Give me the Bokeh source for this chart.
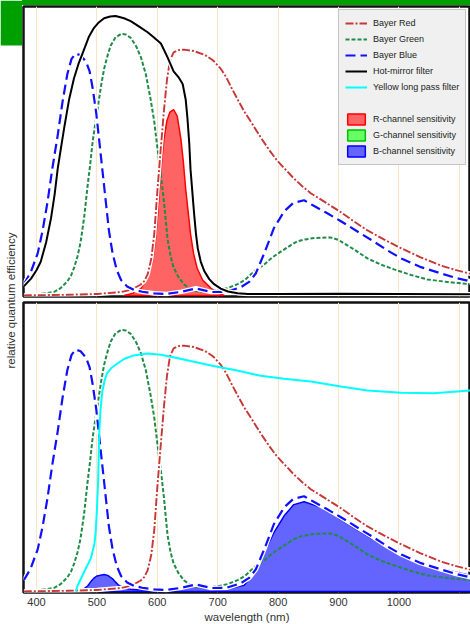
import math
from bokeh.plotting import figure
from bokeh.layouts import row, column
from bokeh.models import (Range1d, FixedTicker, Grid, LinearAxis, Legend,
                          LegendItem, Label, BoxAnnotation, Div)
from bokeh.embed import file_html
from bokeh.resources import INLINE

# ---------------- data ----------------
RED_WL = [379, 450, 500, 540, 556, 565, 572, 578, 584, 590, 595, 600, 606, 611, 616, 621,
          627, 635, 644, 660, 678, 692, 705, 714, 722, 733, 744, 758, 771, 785, 799, 812,
          826, 840, 854, 880, 904, 925, 948, 975, 1004, 1035, 1069, 1095, 1119]
RED_VAL = [0.0, 0.002, 0.005, 0.012, 0.02, 0.03, 0.038, 0.05, 0.075, 0.13, 0.22, 0.37,
           0.53, 0.66, 0.77, 0.84, 0.868, 0.876, 0.878, 0.873, 0.86, 0.84, 0.81, 0.78,
           0.745, 0.70, 0.657, 0.61, 0.565, 0.52, 0.48, 0.45, 0.418, 0.39, 0.365, 0.33,
           0.297, 0.265, 0.232, 0.2, 0.168, 0.137, 0.107, 0.09, 0.077]

GREEN_WL = [379, 400, 429, 440, 451, 457, 462, 468, 473, 479, 484, 489, 493, 501, 507, 512,
            518, 523, 531, 540, 548, 556, 565, 573, 581, 589, 595, 600, 606, 611, 617, 622,
            627, 635, 644, 655, 667, 685, 700, 717, 733, 745, 755, 766, 777, 790, 805, 820,
            832, 845, 860, 887, 900, 909, 925, 948, 970, 992, 1020, 1047, 1080, 1119]
GREEN_VAL = [0.0, 0.003, 0.012, 0.026, 0.05, 0.07, 0.097, 0.14, 0.19, 0.28, 0.38, 0.47,
             0.55, 0.665, 0.75, 0.81, 0.86, 0.893, 0.922, 0.934, 0.932, 0.92, 0.89, 0.85,
             0.79, 0.70, 0.62, 0.53, 0.43, 0.335, 0.2, 0.14, 0.1, 0.065, 0.04, 0.022, 0.014,
             0.014, 0.018, 0.026, 0.04, 0.055, 0.075, 0.095, 0.11, 0.135, 0.157, 0.178,
             0.193, 0.2, 0.205, 0.207, 0.198, 0.186, 0.165, 0.132, 0.11, 0.093, 0.073,
             0.057, 0.048, 0.04]

BLUE_WL = [379, 390, 402, 410, 418, 426, 435, 443, 451, 458, 465, 473, 482, 488, 493, 499,
           504, 510, 515, 520, 526, 533, 540, 550, 561, 575, 595, 615, 640, 664, 689, 715,
           739, 752, 763, 777, 793, 810, 825, 843, 859, 880, 904, 930, 958, 980, 1004,
           1035, 1069, 1095, 1119]
BLUE_VAL = [0.04, 0.08, 0.15, 0.23, 0.33, 0.45, 0.57, 0.69, 0.79, 0.845, 0.864, 0.858,
            0.835, 0.80, 0.74, 0.65, 0.55, 0.43, 0.33, 0.23, 0.15, 0.09, 0.055, 0.032,
            0.02, 0.013, 0.007, 0.005, 0.013, 0.025, 0.012, 0.013, 0.03, 0.048, 0.078,
            0.15, 0.24, 0.30, 0.33, 0.34, 0.32, 0.295, 0.265, 0.23, 0.193, 0.162, 0.132,
            0.102, 0.079, 0.062, 0.05]

HOT_WL = [379, 391, 400, 407, 416, 424, 430, 435, 440, 446, 454, 462, 470, 479, 487, 495,
          503, 512, 522, 531, 545, 556, 570, 584, 595, 606, 617, 627, 635, 642, 647, 650,
          653, 655, 658, 661, 664, 667, 672, 678, 686, 694, 705, 717, 733, 750, 800, 900,
          1000, 1119]
HOT_VAL = [0.032, 0.06, 0.09, 0.12, 0.19, 0.275, 0.36, 0.45, 0.52, 0.60, 0.70, 0.775,
           0.83, 0.88, 0.925, 0.955, 0.975, 0.99, 0.996, 0.998, 0.99, 0.98, 0.96, 0.94,
           0.92, 0.90, 0.85, 0.80, 0.78, 0.755, 0.70, 0.63, 0.54, 0.45, 0.37, 0.29, 0.22,
           0.168, 0.12, 0.086, 0.058, 0.04, 0.024, 0.014, 0.008, 0.005, 0.005, 0.006,
           0.005, 0.004]

YLP_WL = [465, 468, 479, 490, 496, 498, 500, 502, 504, 506, 509, 513, 517, 525, 534, 545,
          561, 584, 606, 640, 689, 730, 771, 810, 854, 904, 948, 1004, 1058, 1119]
YLP_VAL = [0.0, 0.02, 0.07, 0.118, 0.17, 0.214, 0.29, 0.39, 0.57, 0.65, 0.714, 0.755,
           0.78, 0.80, 0.814, 0.83, 0.843, 0.85, 0.845, 0.83, 0.807, 0.79, 0.77, 0.76,
           0.75, 0.732, 0.718, 0.71, 0.708, 0.718]

RCH_WL = [545, 560, 573, 585, 592, 597, 601, 606, 611, 616, 621, 627, 633, 639, 643, 647,
          651, 655, 660, 666, 675, 689, 700, 711]
RCH_VAL = [0.0, 0.008, 0.025, 0.07, 0.12, 0.2, 0.3, 0.45, 0.56, 0.625, 0.655, 0.664, 0.64,
           0.56, 0.48, 0.38, 0.3, 0.22, 0.15, 0.097, 0.055, 0.025, 0.01, 0.0]

GCH_WL = [455, 462, 470, 478, 486]
GCH_VAL = [0.0, 0.004, 0.006, 0.004, 0.0]

BCH_WL = [470, 478, 485, 490, 495, 500, 506, 512, 518, 526, 531, 536, 545, 556, 575, 600,
          640, 664, 689, 717, 744, 761, 777, 793, 810, 826, 843, 871, 895, 920, 948, 975,
          1000, 1019, 1045, 1069, 1095, 1119]
BCH_VAL = [0.0, 0.008, 0.02, 0.035, 0.047, 0.055, 0.058, 0.06, 0.057, 0.045, 0.033, 0.022,
           0.012, 0.008, 0.006, 0.004, 0.01, 0.02, 0.01, 0.01, 0.022, 0.07, 0.14, 0.21,
           0.27, 0.31, 0.32, 0.30, 0.27, 0.235, 0.198, 0.164, 0.135, 0.118, 0.098, 0.082,
           0.068, 0.057]

TICKS = [400, 500, 600, 700, 800, 900, 1000]
GRID_TICKS = [400, 500, 600, 700, 800, 900, 1000, 1100]

LEGEND_LABELS = ["Bayer Red", "Bayer Green", "Bayer Blue", "Hot-mirror filter",
                 "Yellow long pass filter", " ", "R-channel sensitivity",
                 "G-channel sensitivity", "B-channel sensitivity"]

# ---------------- styles ----------------
FONT = "Liberation Sans"
TXT = "#333333"
GREEN_BAR = "#009f00"
GRID_C = "#fbe4c4"
C_RED = "#c83636"
C_GREEN = "#1e8c46"
C_BLUE = "#1010ff"
C_CYAN = "#00ffff"
NAN = float("nan")

FRAME_W = 447
FRAME_H = 290
LABEL_W = 22
TOTAL_H = 622

x_range = Range1d(378.5, 1118.5)


def strip_grids(p):
    p.center = [c for c in p.center if not isinstance(c, Grid)]


def make_panel(min_top, min_bottom):
    p = figure(frame_width=FRAME_W, frame_height=FRAME_H, x_range=x_range,
               y_range=Range1d(-0.004, 1.032), x_axis_location=None,
               y_axis_location=None, toolbar_location=None, output_backend="svg",
               min_border_left=1, min_border_right=0, min_border_top=min_top,
               min_border_bottom=min_bottom, background_fill_color="white",
               border_fill_color="white", outline_line_color="#111111",
               outline_line_width=2.5)
    strip_grids(p)
    g = Grid(dimension=0, ticker=FixedTicker(ticks=GRID_TICKS),
             grid_line_color=GRID_C, grid_line_width=1)
    p.add_layout(g)
    return p


def fill_patch(p, wl, val, fill, line):
    xs = list(wl) + [wl[-1], wl[0]]
    ys = list(val) + [0.0, 0.0]
    return p.patch(xs, ys, fill_color=fill, fill_alpha=1.0, line_color=line,
                   line_width=1.5)


def halo(p, wl, val, w):
    p.line(wl, val, line_color="white", line_width=w + 2.5)


def bayer_lines(p):
    r_g = p.line(GREEN_WL, GREEN_VAL, line_color=C_GREEN, line_width=2, line_dash="4 2")
    halo(p, RED_WL, RED_VAL, 1.9)
    r_r = p.line(RED_WL, RED_VAL, line_color=C_RED, line_width=1.9, line_dash="8 2 2 2")
    halo(p, BLUE_WL, BLUE_VAL, 2.2)
    r_b = p.line(BLUE_WL, BLUE_VAL, line_color=C_BLUE, line_width=2.2, line_dash="10 5")
    return r_r, r_g, r_b


# ---------------- top panel ----------------
top = make_panel(1, 2)
r_rch = fill_patch(top, RCH_WL, RCH_VAL, "#ff6464", "#ff0000")
r_red, r_green, r_blue = bayer_lines(top)
halo(top, HOT_WL, HOT_VAL, 2)
r_hot = top.line(HOT_WL, HOT_VAL, line_color="black", line_width=2)

# legend proxies (a single NaN point: nothing drawn) for items of the lower panel
px_ylp = top.line([NAN], [NAN], line_color=C_CYAN, line_width=2)
px_blank = top.line([NAN], [NAN], line_alpha=0)
px_gch = top.patch([NAN], [NAN], fill_color="#66ff66", line_color="#00c000",
                   line_width=1.5)
px_bch = top.patch([NAN], [NAN], fill_color="#6464ff", line_color="#0000ff",
                   line_width=1.5)

leg_renderers = [r_red, r_green, r_blue, r_hot, px_ylp, px_blank, r_rch, px_gch, px_bch]
legend = Legend(items=[LegendItem(label=lab, renderers=[r])
                       for lab, r in zip(LEGEND_LABELS, leg_renderers)],
                location=(315, 131), margin=0, padding=6, spacing=2,
                glyph_width=22, glyph_height=14, label_height=14, label_standoff=6,
                label_text_font=FONT, label_text_font_size="9px",
                label_text_color="#222222", background_fill_color="#f0f0f0",
                background_fill_alpha=1.0, border_line_color="#9a9a9a",
                border_line_width=1)
top.add_layout(legend)

# ---------------- bottom panel ----------------
bot = make_panel(4, 0)
fill_patch(bot, BCH_WL, BCH_VAL, "#6464ff", "#0000ff")
fill_patch(bot, GCH_WL, GCH_VAL, "#66ff66", "#00c000")
bayer_lines(bot)
bot.line(YLP_WL, YLP_VAL, line_color=C_CYAN, line_width=2)

xaxis = LinearAxis(ticker=FixedTicker(ticks=TICKS), axis_label="wavelength (nm)",
                   axis_line_color=None, major_tick_line_color=None,
                   minor_tick_line_color=None, major_tick_out=0, major_tick_in=0,
                   major_label_standoff=5, axis_label_standoff=2,
                   major_label_text_font=FONT, major_label_text_font_size="11px",
                   major_label_text_color=TXT, axis_label_text_font=FONT,
                   axis_label_text_font_size="11.5px", axis_label_text_color=TXT,
                   axis_label_text_font_style="normal")
bot.add_layout(xaxis, "below")

# ---------------- green header bar ----------------
bar = Div(text="", width=FRAME_W + 1, height=5,
          styles={"background-color": GREEN_BAR, "margin": "0", "padding": "0"})

# ---------------- left strip with the shared y label ----------------
lab = figure(width=LABEL_W, height=TOTAL_H, x_range=Range1d(0, LABEL_W),
             y_range=Range1d(0, TOTAL_H), x_axis_location=None, y_axis_location=None,
             toolbar_location=None, output_backend="svg", min_border=0,
             outline_line_color=None, background_fill_color="white",
             border_fill_color="white")
strip_grids(lab)
lab.add_layout(BoxAnnotation(bottom=TOTAL_H - 45, fill_color=GREEN_BAR, fill_alpha=1.0,
                             line_color=None))
lab.add_layout(Label(x=10, y=TOTAL_H - 300, text="relative quantum efficiency",
                     angle=math.pi / 2, text_align="center", text_baseline="middle",
                     text_font=FONT, text_font_size="11.5px", text_color=TXT))

layout = row(lab, column(bar, top, bot))

open("out.html", "w").write(file_html(layout, INLINE))
